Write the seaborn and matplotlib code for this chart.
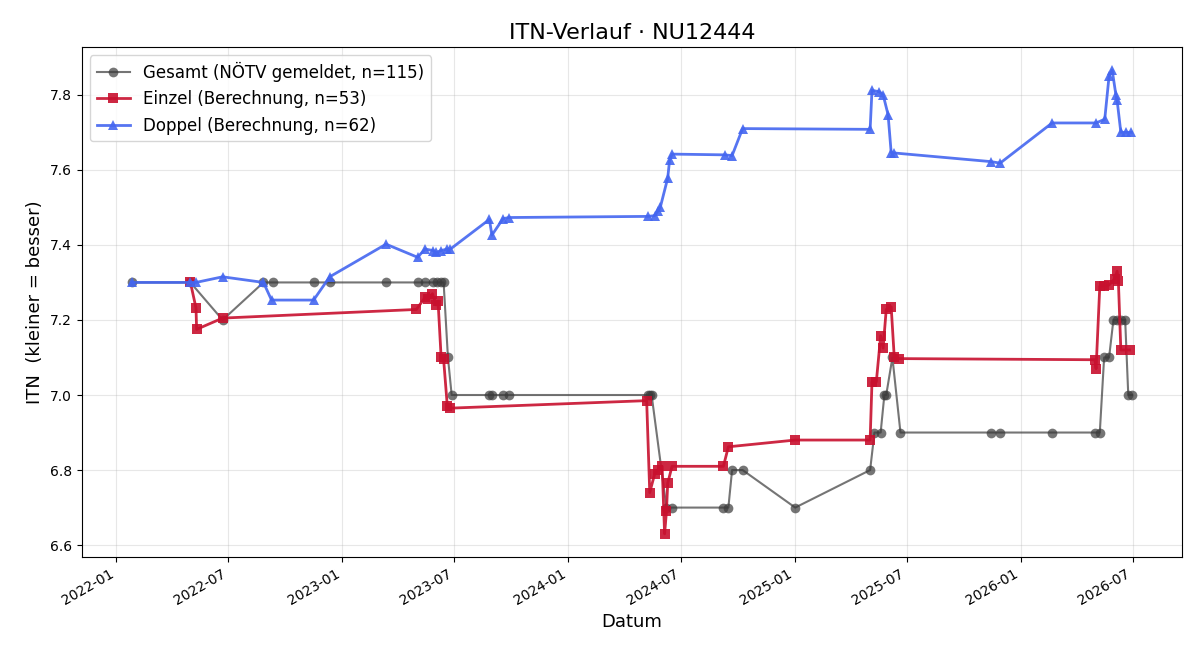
import matplotlib
matplotlib.use("Agg")
import matplotlib.pyplot as plt
import matplotlib.dates as mdates
import pandas as pd
import seaborn as sns

# ---- data ----
gesamt_dates = ["2022-01-26", "2022-05-01", "2022-06-22", "2022-08-27", "2022-09-11", "2022-11-16",
                "2022-12-12", "2023-03-13", "2023-05-03", "2023-05-15", "2023-05-28", "2023-06-04",
                "2023-06-09", "2023-06-14", "2023-06-21", "2023-06-27", "2023-08-27", "2023-08-31",
                "2023-09-18", "2023-09-28", "2024-05-09", "2024-05-12", "2024-05-15", "2024-06-08",
                "2024-06-17", "2024-09-08", "2024-09-16", "2024-09-22", "2024-10-09", "2025-01-02",
                "2025-05-03", "2025-05-10", "2025-05-20", "2025-05-26", "2025-05-29", "2025-06-08",
                "2025-06-21", "2025-11-14", "2025-11-29", "2026-02-21", "2026-05-01", "2026-05-09",
                "2026-05-16", "2026-05-24", "2026-05-31", "2026-06-06", "2026-06-12", "2026-06-19",
                "2026-06-24", "2026-06-30"]
gesamt_vals = [7.3, 7.3, 7.2, 7.3, 7.3, 7.3,
               7.3, 7.3, 7.3, 7.3, 7.3, 7.3,
               7.3, 7.3, 7.1, 7.0, 7.0, 7.0,
               7.0, 7.0, 7.0, 7.0, 7.0, 6.7,
               6.7, 6.7, 6.7, 6.8, 6.8, 6.7,
               6.8, 6.9, 6.9, 7.0, 7.0, 7.1,
               6.9, 6.9, 6.9, 6.9, 6.9, 6.9,
               7.1, 7.1, 7.2, 7.2, 7.2, 7.2,
               7.0, 7.0]

einzel_dates = ["2022-05-01", "2022-05-10", "2022-05-11", "2022-06-22", "2023-05-01", "2023-05-15",
                "2023-05-20", "2023-05-27", "2023-06-02", "2023-06-05", "2023-06-10", "2023-06-14",
                "2023-06-20", "2023-06-25", "2024-05-07", "2024-05-12", "2024-05-20", "2024-05-25",
                "2024-06-01", "2024-06-05", "2024-06-08", "2024-06-10", "2024-06-17", "2024-09-08",
                "2024-09-16", "2025-01-02", "2025-05-03", "2025-05-06", "2025-05-13", "2025-05-20",
                "2025-05-24", "2025-05-29", "2025-06-06", "2025-06-11", "2025-06-19", "2026-05-01",
                "2026-05-03", "2026-05-09", "2026-05-16", "2026-05-24", "2026-06-02", "2026-06-06",
                "2026-06-08", "2026-06-12", "2026-06-26"]
einzel_vals = [7.30, 7.232, 7.175, 7.205, 7.228, 7.26,
               7.255, 7.27, 7.24, 7.25, 7.10, 7.095,
               6.97, 6.965, 6.985, 6.74, 6.79, 6.80,
               6.81, 6.63, 6.69, 6.765, 6.81, 6.81,
               6.862, 6.88, 6.88, 7.035, 7.035, 7.158,
               7.125, 7.228, 7.235, 7.10, 7.097, 7.094,
               7.07, 7.29, 7.29, 7.293, 7.31, 7.33,
               7.305, 7.12, 7.12]

doppel_dates = ["2022-01-26", "2022-05-01", "2022-05-10", "2022-06-22", "2022-08-27", "2022-09-09",
                "2022-11-16", "2022-12-12", "2023-03-13", "2023-05-03", "2023-05-15", "2023-05-28",
                "2023-06-02", "2023-06-10", "2023-06-20", "2023-06-25", "2023-08-27", "2023-08-31",
                "2023-09-18", "2023-09-28", "2024-05-09", "2024-05-20", "2024-05-25", "2024-05-29",
                "2024-06-10", "2024-06-13", "2024-06-17", "2024-09-10", "2024-09-22", "2024-10-09",
                "2025-05-03", "2025-05-06", "2025-05-18", "2025-05-24", "2025-06-01", "2025-06-06",
                "2025-06-11", "2025-11-14", "2025-11-29", "2026-02-21", "2026-05-03", "2026-05-17",
                "2026-05-24", "2026-05-29", "2026-06-04", "2026-06-06", "2026-06-12", "2026-06-20",
                "2026-06-29"]
doppel_vals = [7.30, 7.30, 7.30, 7.315, 7.30, 7.253,
               7.253, 7.315, 7.402, 7.367, 7.389, 7.385,
               7.38, 7.385, 7.389, 7.389, 7.468, 7.426,
               7.47, 7.473, 7.476, 7.478, 7.49, 7.50,
               7.578, 7.625, 7.642, 7.64, 7.638, 7.71,
               7.708, 7.812, 7.808, 7.80, 7.747, 7.646,
               7.645, 7.622, 7.618, 7.725, 7.725, 7.735,
               7.85, 7.866, 7.80, 7.785, 7.70, 7.70,
               7.70]

labels = ["Gesamt (NÖTV gemeldet, n=115)", "Einzel (Berechnung, n=53)", "Doppel (Berechnung, n=62)"]
title = "ITN-Verlauf · NU12444"

# ---- plot ----
fig, ax = plt.subplots(figsize=(12, 6.6), dpi=100)

df_g = pd.DataFrame({"Datum": pd.to_datetime(gesamt_dates), "ITN": gesamt_vals})
df_e = pd.DataFrame({"Datum": pd.to_datetime(einzel_dates), "ITN": einzel_vals})
df_d = pd.DataFrame({"Datum": pd.to_datetime(doppel_dates), "ITN": doppel_vals})

sns.lineplot(data=df_g, x="Datum", y="ITN", ax=ax, color="#3a3a3a", alpha=0.7,
             marker="o", markersize=7, linewidth=1.5, markeredgewidth=0, label=labels[0])
sns.lineplot(data=df_e, x="Datum", y="ITN", ax=ax, color="#c8102e", alpha=0.9,
             marker="s", markersize=7.5, linewidth=2, markeredgewidth=0, label=labels[1])
sns.lineplot(data=df_d, x="Datum", y="ITN", ax=ax, color="#4466f0", alpha=0.9,
             marker="^", markersize=7.5, linewidth=2, markeredgewidth=0, label=labels[2])

ax.set_title(title, fontsize=16)
ax.set_xlabel("Datum", fontsize=13)
ax.set_ylabel("ITN  (kleiner = besser)", fontsize=13)
ax.tick_params(labelsize=10)
ax.grid(True, alpha=0.3)
ax.xaxis.set_major_locator(mdates.MonthLocator(bymonth=[1, 7]))
ax.xaxis.set_major_formatter(mdates.DateFormatter("%Y-%m"))
for lbl in ax.get_xticklabels():
    lbl.set_rotation(30)
    lbl.set_ha("right")
ax.legend(loc="upper left", fontsize=12)

fig.subplots_adjust(left=0.068, right=0.985, top=0.929, bottom=0.156)
fig.savefig("out.png", dpi=100)
